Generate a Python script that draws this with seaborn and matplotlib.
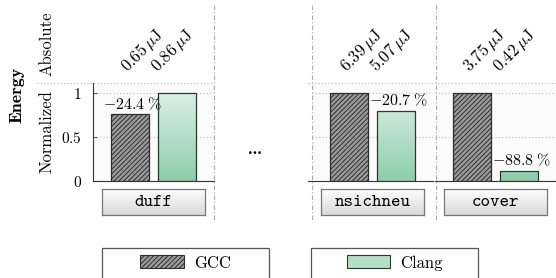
import numpy as np
import pandas as pd
import matplotlib
matplotlib.use("Agg")
import matplotlib.pyplot as plt
import seaborn as sns
from matplotlib.colors import LinearSegmentedColormap
from matplotlib.lines import Line2D
from matplotlib.patches import Patch, Rectangle
import matplotlib.transforms as mtransforms

# data
benchmarks = ["duff", "nsichneu", "cover"]
compilers = ["GCC", "Clang"]
gcc_uj = [0.65, 6.39, 3.75]
clang_uj = [0.86, 5.07, 0.42]
gcc_norm = [0.756, 1.0, 1.0]
clang_norm = [1.0, 0.793, 0.112]
delta_pct = [-24.4, -20.7, -88.8]
yticks = [0, 0.5, 1]
ytick_labels = ["$0$", "$0.5$", "$1$"]

df = pd.DataFrame({
    "bench": benchmarks * 2,
    "compiler": ["GCC"] * 3 + ["Clang"] * 3,
    "norm": gcc_norm + clang_norm,
    "uj": gcc_uj + clang_uj,
})

plt.rcParams["font.family"] = "cmr10"
plt.rcParams["mathtext.fontset"] = "cm"
plt.rcParams["axes.unicode_minus"] = False
plt.rcParams["hatch.linewidth"] = 0.7

W, H = 556, 278
fx = lambda x: x / W
fy = lambda y: 1 - y / H

fig = plt.figure(figsize=(W / 100, H / 100), dpi=100)

gray = "#9a9a9a"
green_cmap = LinearSegmentedColormap.from_list("g", ["#dcefe5", "#8ccea9"])
box_cmap = LinearSegmentedColormap.from_list("b", ["#fdfdfd", "#d9d9d9"])
grad = np.linspace(0, 1, 256).reshape(-1, 1)
ytop = 98 / 88

panel_left = [93, 312, 435]
for i, (bench, left) in enumerate(zip(benchmarks, panel_left)):
    ax = fig.add_axes([fx(left), fy(181), 121 / W, 98 / H])
    ax.set_facecolor("#fbfbfb")
    sub = df[df["bench"] == bench]
    sns.barplot(data=sub, x="bench", y="norm", hue="compiler", hue_order=compilers,
                palette={"GCC": gray, "Clang": "#b5e0c7"}, width=0.78, gap=0.19,
                legend=False, ax=ax, zorder=3)
    bars = [p for p in ax.patches if isinstance(p, Rectangle)]
    gcc_bar, clang_bar = bars[0], bars[1]
    gcc_bar.set_hatch("///////")
    gcc_bar.set_edgecolor("#2e2e2e")
    gcc_bar.set_linewidth(0.9)
    clang_bar.set_edgecolor("#2b3a31")
    clang_bar.set_linewidth(0.9)
    x0, x1 = clang_bar.get_x(), clang_bar.get_x() + clang_bar.get_width()
    im = ax.imshow(grad, extent=(x0, x1, 0, 1), aspect="auto", cmap=green_cmap, zorder=2.9)
    im.set_clip_path(clang_bar)
    clang_bar.set_facecolor("none")

    ax.set_xlim(-0.5, 0.5)
    ax.set_ylim(0, ytop)
    ax.set_xlabel("")
    ax.set_ylabel("")
    ax.set_xticks([])
    ax.set_yticks(yticks)
    ax.grid(axis="y", color="#bbbbbb", linestyle=(0, (1, 2)), linewidth=0.8)
    ax.set_axisbelow(True)
    for s in ["top", "right"]:
        ax.spines[s].set_visible(False)
    ax.spines["bottom"].set_color("#333333")
    ax.spines["left"].set_color("#333333")
    if i == 0:
        ax.set_yticklabels(ytick_labels, fontsize=11)
        ax.tick_params(axis="y", direction="in", length=3, pad=8, color="#555555")
    else:
        ax.spines["left"].set_visible(False)
        ax.tick_params(axis="y", left=False, labelleft=False)

    # relative change above the lower bar
    lo = gcc_bar if gcc_norm[i] < clang_norm[i] else clang_bar
    h = lo.get_height()
    ax.text(lo.get_x() + lo.get_width() / 2 + 0.02, h + 0.03,
            r"$%.1f\;\%%$" % delta_pct[i], ha="center", va="bottom", fontsize=11.5, zorder=5)

    # absolute values, rotated; the pair sits closer together than the bars
    trans = mtransforms.blended_transform_factory(ax.transData, ax.transAxes)
    gx = gcc_bar.get_x() + gcc_bar.get_width() / 2
    for k, val in enumerate([gcc_uj[i], clang_uj[i]]):
        ax.text(gx - 0.02 + 0.25 * k, 1.11, r"$%.2f\,\mu\mathrm{J}$" % val, rotation=45,
                rotation_mode="anchor", ha="left", va="baseline", fontsize=12,
                transform=trans, clip_on=False)

    # benchmark name box
    bax = fig.add_axes([fx(left + 9), fy(215), 103 / W, 26 / H])
    bax.imshow(grad, aspect="auto", cmap=box_cmap, extent=(0, 1, 0, 1))
    bax.set_xticks([])
    bax.set_yticks([])
    for s in bax.spines.values():
        s.set_color("#777777")
        s.set_linewidth(0.9)
    bax.text(0.5, 0.47, bench, family="cmtt10", fontsize=13, ha="center", va="center",
             transform=bax.transAxes)

# separators
for x in [214, 312, 436]:
    fig.add_artist(Line2D([fx(x), fx(x)], [fy(5), fy(222)], color="#aaaaaa",
                          linewidth=0.8, linestyle=(0, (4, 2, 1, 2))))
for xa, xb in [(37, 214), (308, 556)]:
    fig.add_artist(Line2D([fx(xa), fx(xb)], [fy(83), fy(83)], color="#bbbbbb",
                          linewidth=0.8, linestyle=(0, (1, 2))))
fig.add_artist(Line2D([fx(308), fx(312)], [fy(181), fy(181)], color="#333333", linewidth=0.8))

fig.text(fx(255), fy(150), "...", family="cmb10", fontsize=12, ha="center", va="center")

fig.text(fx(17), fy(95), "Energy", family="cmb10", fontsize=13, rotation=90,
         ha="center", va="center")
fig.text(fx(47), fy(44), "Absolute", fontsize=12, rotation=90, ha="center", va="center")
fig.text(fx(47), fy(132), "Normalized", fontsize=12, rotation=90, ha="center", va="center")

# legend
handles = [Patch(facecolor=gray, edgecolor="#2e2e2e", hatch="///////", linewidth=0.8),
           Patch(facecolor="#b5e0c7", edgecolor="#2b3a31", linewidth=0.8)]
for handle, label, (xa, xb) in zip(handles, compilers, [(102, 269), (311, 478)]):
    fig.add_artist(Rectangle((fx(xa), fy(282)), (xb - xa) / W, 34 / H, fill=False,
                             edgecolor="#555555", linewidth=0.9, transform=fig.transFigure))
    fig.legend(handles=[handle], labels=[label], loc="center",
               bbox_to_anchor=(fx((xa + xb) / 2), fy(263)), frameon=False,
               fontsize=12, handlelength=2.6, handleheight=0.8, handletextpad=0.6)

fig.savefig("out.png", dpi=100)
